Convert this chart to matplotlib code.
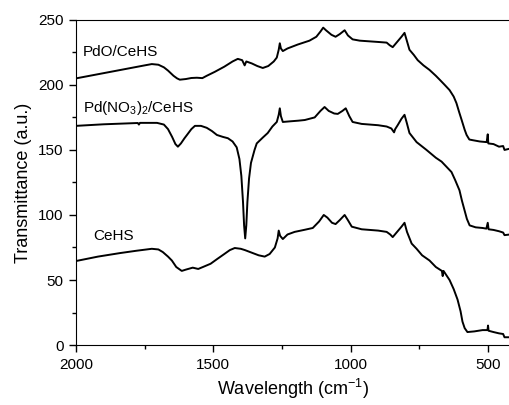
import numpy as np
import matplotlib.pyplot as plt
from matplotlib.ticker import MultipleLocator

plt.rcParams['font.family'] = ['Liberation Sans', 'DejaVu Sans']
plt.rcParams['mathtext.fontset'] = 'custom'
plt.rcParams['mathtext.rm'] = 'Liberation Sans'
plt.rcParams['mathtext.it'] = 'Liberation Sans:italic'
plt.rcParams['mathtext.default'] = 'regular'

# FTIR spectra, wavenumber (cm-1) vs transmittance
pdo_x = [2000, 1900, 1800, 1750, 1724, 1700, 1680, 1665, 1645, 1632, 1622, 1600, 1580,
         1560, 1540, 1524, 1495, 1460, 1430, 1411, 1395, 1386, 1380, 1360, 1340, 1320,
         1300, 1280, 1269, 1262, 1258, 1254, 1247, 1230, 1193, 1150, 1125, 1110, 1100,
         1090, 1070, 1055, 1040, 1022, 1010, 993, 967, 900, 869, 858, 847, 835, 815, 804,
         797, 786, 770, 756, 735, 713, 690, 676, 660, 640, 625, 615, 605, 596, 585, 578,
         568, 556, 530, 505, 501, 499, 480, 460, 445, 440, 420]
pdo_y = [205, 209, 213, 215, 216, 215.5, 213.5, 211, 207, 205, 204, 204.5, 205.3,
         205.5, 205.2, 207, 210, 214, 218, 220, 219, 215, 218, 216.5, 214.5, 213,
         214.5, 218, 221, 227, 232, 228, 226, 228, 231, 234, 237, 241, 244,
         242, 238.5, 237, 239, 242, 238, 235, 234, 233, 232.5, 230.5, 229, 232, 237, 240,
         235, 227, 223, 219, 215, 211.5, 207, 204, 200.5, 196, 191, 186, 179, 173, 165.5, 161.5,
         158, 157.5, 156.5, 156, 162, 155, 154.5, 152.5, 153, 150, 151]

nitrate_x = [2000, 1900, 1800, 1775, 1771, 1767, 1705, 1680, 1665, 1650, 1638, 1629, 1618,
             1605, 1596, 1580, 1567, 1545, 1524, 1505, 1487, 1465, 1447, 1430, 1415, 1405,
             1398, 1392, 1388, 1384, 1380, 1376, 1370, 1363, 1350, 1342, 1320, 1302, 1285,
             1269, 1262, 1258, 1254, 1247, 1220, 1190, 1167, 1131, 1110, 1095, 1080, 1060,
             1047, 1030, 1018, 1005, 993, 960, 900, 869, 852, 842, 838, 829, 815, 804, 796,
             786, 760, 724, 690, 669, 651, 633, 620, 604, 595, 586, 577, 567, 545, 520, 506,
             501, 498, 480, 460, 445, 440, 420]
nitrate_y = [168.5, 169.7, 170.5, 170.7, 169.5, 170.8, 170.8, 169.5, 166, 160, 154.5, 152.5, 155,
             159, 161.5, 166, 168.5, 168.5, 167, 164.5, 161.5, 160, 159, 156.5, 152, 143,
             130, 110, 92, 82, 92, 110, 128, 140, 150, 155, 159.5, 163, 168,
             171.5, 177, 182, 176, 171.5, 172, 172.5, 173, 175, 180, 183, 180, 178,
             177.7, 180, 182, 176, 171.5, 170, 169, 168, 166.5, 163.5, 166, 169, 174, 177, 171,
             163, 156, 150, 144, 141, 137, 133, 127, 119, 111, 104, 97, 92, 90.5, 90, 89.5,
             94, 89, 88.5, 87.5, 86.5, 84.5, 85]

cehs_x = [2000, 1920, 1840, 1780, 1724, 1700, 1684, 1665, 1651, 1635, 1615, 1600, 1575,
          1555, 1538, 1510, 1487, 1460, 1440, 1422, 1400, 1385, 1360, 1335, 1313, 1295,
          1276, 1266, 1262, 1257, 1247, 1230, 1204, 1170, 1138, 1115, 1098, 1085, 1068,
          1055, 1040, 1022, 1010, 996, 960, 900, 869, 856, 847, 835, 815, 804, 795, 778,
          760, 740, 713, 690, 668, 665, 662, 640, 625, 611, 600, 593, 585, 575, 550, 520,
          502, 500, 498, 480, 460, 445, 440, 420]
cehs_y = [64.6, 68, 70.7, 72.5, 74, 73.5, 71.5, 68, 65, 60, 57, 58, 59.5,
          58.5, 60, 62.5, 66, 70, 73, 74.6, 74, 73, 71, 69, 68, 70,
          75, 82, 88, 84, 81.5, 85, 87, 88.5, 90, 95, 100, 98, 94,
          93, 96, 100, 96, 91, 89, 88, 87, 85, 83, 86, 91, 94, 87, 78,
          74, 69, 65, 60, 57, 53, 57, 50, 43, 35, 26, 18, 13, 10, 10.5, 11.5,
          11.5, 15, 11, 10, 9, 8.5, 6, 6]

labels = ['PdO/CeHS', 'Pd(NO$_3$)$_2$/CeHS', 'CeHS']
label_x = [1975, 1975, 1938]
label_y = [225, 182, 84]

fig = plt.figure(figsize=(5.1, 4.05), dpi=100)
ax = fig.add_axes([0.149, 0.148, 0.851, 0.803])

for xs, ys in [(pdo_x, pdo_y), (nitrate_x, nitrate_y), (cehs_x, cehs_y)]:
    ax.plot(xs, ys, color='black', lw=1.4)

for t, lx, ly in zip(labels, label_x, label_y):
    ax.text(lx, ly, t, fontsize=11, va='center', ha='left')

ax.set_xlim(2000, 420)
ax.set_ylim(0, 250)
ax.xaxis.set_major_locator(MultipleLocator(500))
ax.xaxis.set_minor_locator(MultipleLocator(250))
ax.yaxis.set_major_locator(MultipleLocator(50))
ax.yaxis.set_minor_locator(MultipleLocator(25))
ax.tick_params(which='major', length=5, width=1, labelsize=11, pad=4)
ax.tick_params(which='minor', length=3, width=1)
ax.spines['right'].set_visible(False)
ax.set_xlabel('Wavelength (cm$^{-1}$)', fontsize=13)
ax.set_ylabel('Transmittance (a.u.)', fontsize=13)

fig.savefig('out.png', dpi=100)
